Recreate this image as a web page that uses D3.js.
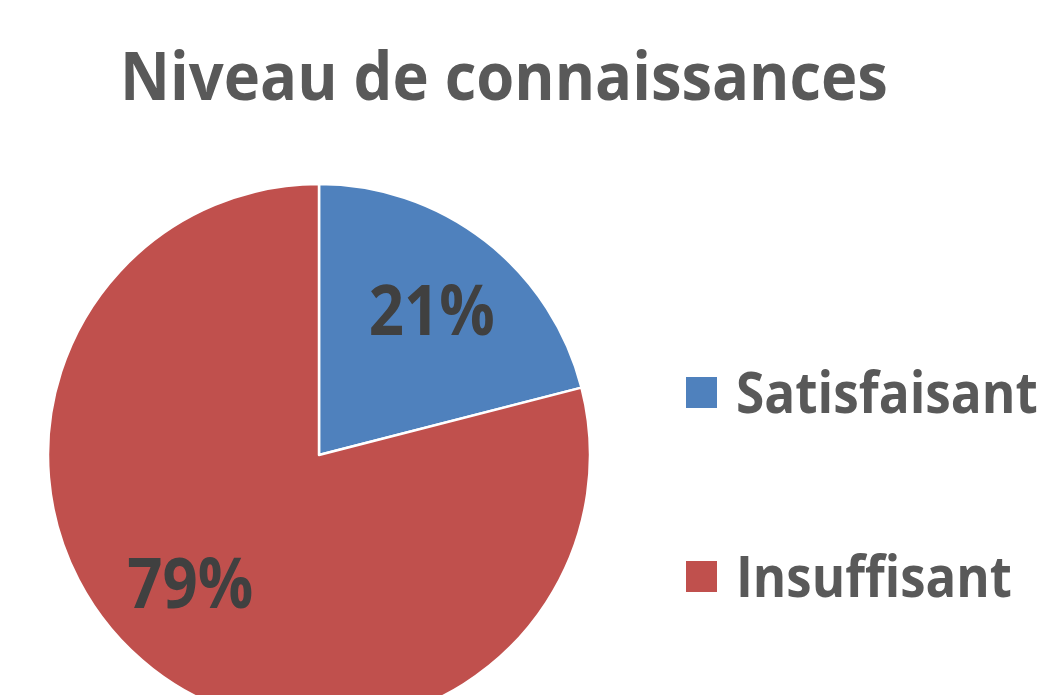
<!DOCTYPE html>
<html>
<head>
<meta charset="utf-8">
<script src="https://cdn.jsdelivr.net/npm/d3@7"></script>
<style>
  body { margin: 0; background: #fff; }
  text { font-family: "Open Sans", sans-serif; font-weight: bold; }
</style>
</head>
<body>
<script>
const title = 'Niveau de connaissances';
const categories = ['Satisfaisant', 'Insuffisant'];
const values = [21, 79];
const colors = ['#4F81BD', '#C0504D'];

const width = 1045, height = 695;
const cx = 319, cy = 455, radius = 271;

const svg = d3.select('body').append('svg')
    .attr('width', width)
    .attr('height', height);

// text placed at (x,y), squeezed sideways to the width Calibri would take
function label(parent, x, y, str, size, color, anchor, w) {
    const t = parent.append('g')
        .attr('transform', `translate(${x},${y})`)
        .append('text')
        .attr('text-anchor', anchor)
        .attr('fill', color)
        .attr('font-size', size)
        .text(str);
    const len = t.node().getComputedTextLength();
    if (len > w) t.attr('transform', `scale(${w / len},1)`);
    return t;
}

label(svg, 504, 100, title, 66, '#595959', 'middle', 768);

const pie = d3.pie().sort(null).value(d => d);
const arc = d3.arc().innerRadius(0).outerRadius(radius);
const labelArc = d3.arc().innerRadius(184).outerRadius(184);

const g = svg.append('g').attr('transform', `translate(${cx},${cy})`);

const slices = pie(values);

g.selectAll('path')
    .data(slices)
    .join('path')
    .attr('d', arc)
    .attr('fill', (d, i) => colors[i])
    .attr('stroke', '#fff')
    .attr('stroke-width', 2.5)
    .attr('stroke-linejoin', 'round');

// big slice label sits a bit further round, like Excel does
const nudge = [[0, 0], [-16, -17]];

slices.forEach((d, i) => {
    const [x, y] = labelArc.centroid(d);
    label(g, x + nudge[i][0], y + nudge[i][1] + 25, d.data + '%', 70, '#404040', 'middle', 126);
});

const legend = svg.append('g');
const ly = d3.scalePoint().domain(categories).range([393, 577]);

legend.selectAll('rect')
    .data(categories)
    .join('rect')
    .attr('x', 686)
    .attr('y', d => ly(d) - 16)
    .attr('width', 31).attr('height', 31)
    .attr('fill', (d, i) => colors[i]);

categories.forEach((c, i) => {
    label(legend, 736, ly(c) + 20, c, 58, '#595959', 'start', i === 0 ? 302 : 276);
});
</script>
</body>
</html>
